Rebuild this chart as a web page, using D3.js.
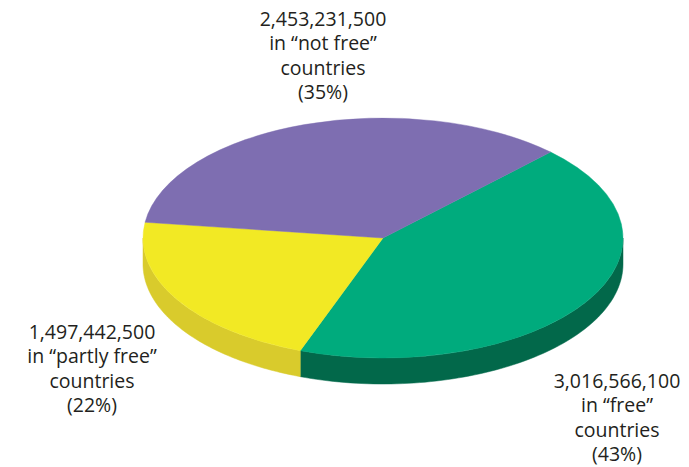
<!DOCTYPE html>
<html>
<head>
<meta charset="utf-8">
<script src="https://cdn.jsdelivr.net/npm/d3@7"></script>
<style>
  html, body { margin: 0; padding: 0; background: #ffffff; }
  svg { display: block; }
</style>
</head>
<body>
<svg id="chart" width="689" height="467"></svg>
<script>
// ---- data ----
const categories = ["free", "partly free", "not free"];
const populations = [3016566100, 1497442500, 2453231500];
const percentLabels = ["43%", "22%", "35%"];
const topColors = ["#00AB7D", "#F2E924", "#7E6EB1"];
const sideColors = ["#02684A", "#D9CB2C", "#5E5190"];

// ---- layout ----
const W = 689, H = 467;
const cx = 383, cy = 238, rx = 240, ry = 120, depth = 26;
const startDeg = 44.3;

const svg = d3.select("#chart");
const g = svg.append("g").attr("transform", `translate(${cx},${cy})`);

const pie = d3.pie().sort(null)
  .startAngle(startDeg * Math.PI / 180)
  .endAngle((startDeg + 360) * Math.PI / 180);
const arcs = pie(populations);

function pt(a, dy) {
  return [rx * Math.sin(a), -ry * Math.cos(a) + (dy || 0)];
}

// sides (front half only)
const sideG = g.append("g");
arcs.forEach((d, i) => {
  [0, 2 * Math.PI, -2 * Math.PI].forEach(off => {
    const s = Math.max(d.startAngle + off, Math.PI / 2);
    const e = Math.min(d.endAngle + off, 3 * Math.PI / 2);
    if (e <= s) return;
    const n = 80;
    const top = d3.range(n + 1).map(k => pt(s + (e - s) * k / n, 0));
    const bot = d3.range(n + 1).map(k => pt(e - (e - s) * k / n, depth));
    sideG.append("path")
      .attr("d", d3.line()(top.concat(bot)) + "Z")
      .attr("fill", sideColors[i])
      .attr("stroke", sideColors[i])
      .attr("stroke-width", 0.5);
  });
});

// top face
const arcGen = d3.arc().innerRadius(0).outerRadius(rx);
g.append("g")
  .attr("transform", `scale(1, ${ry / rx})`)
  .selectAll("path")
  .data(arcs)
  .join("path")
  .attr("d", arcGen)
  .attr("fill", (d, i) => topColors[i])
  .attr("stroke", (d, i) => topColors[i])
  .attr("stroke-width", 0.6);

// ---- labels ----
const fmt = d3.format(",");
const labelPos = [
  { x: 617, y: 388 },
  { x: 92, y: 339 },
  { x: 323, y: 26 }
];
const lineH = 24.4;
categories.forEach((c, i) => {
  const lines = [
    fmt(populations[i]),
    "in \u201C" + c + "\u201D",
    "countries",
    "(" + percentLabels[i] + ")"
  ];
  const t = svg.append("text")
    .attr("x", labelPos[i].x)
    .attr("y", labelPos[i].y)
    .attr("text-anchor", "middle")
    .attr("font-family", "'Open Sans', 'Noto Sans', sans-serif")
    .attr("font-size", 19.5)
    .attr("fill", "#231F20");
  lines.forEach((l, k) => {
    t.append("tspan")
      .attr("x", labelPos[i].x)
      .attr("y", labelPos[i].y + k * lineH)
      .text(l);
  });
});
</script>
</body>
</html>
